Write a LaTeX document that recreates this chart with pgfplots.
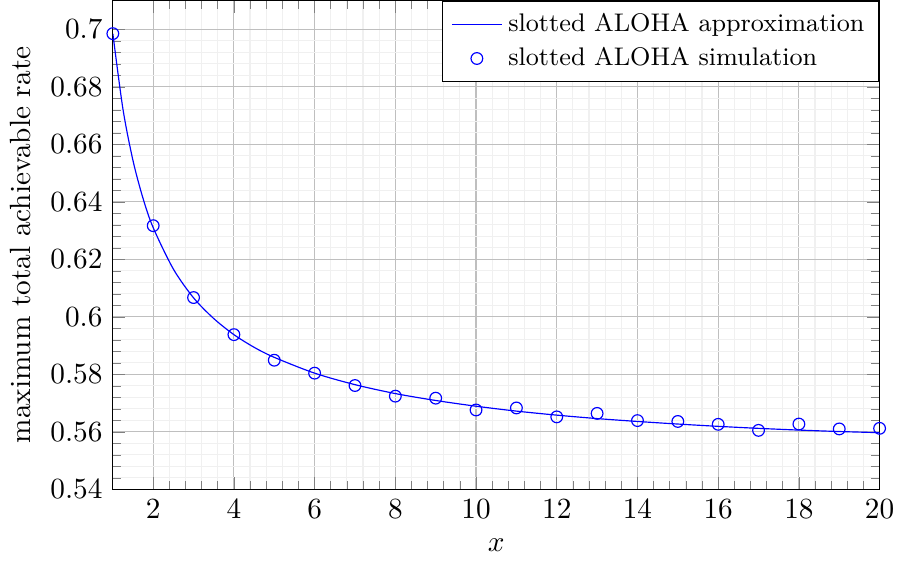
\documentclass[border=0pt]{standalone}
\usepackage{pgfplots}
\pgfplotsset{compat=1.18}
\begin{document}
\begin{tikzpicture}
\begin{axis}[
  scale only axis,
  width=262pt, height=167pt,
  xmin=1, xmax=20, ymin=0.54, ymax=0.71,
  xtick={2,4,...,20},
  ytick={0.54,0.56,...,0.7},
  yticklabel style={/pgf/number format/fixed, /pgf/number format/precision=2},
  minor x tick num=4,
  minor y tick num=4,
  grid=both,
  major grid style={black!25},
  minor grid style={black!6},
  xlabel={$x$},
  ylabel={maximum total achievable rate},
  legend style={at={(1,1)}, anchor=north east, font=\fontsize{8.7}{10.5}\selectfont},
  legend cell align=left,
]
\addplot[color=blue, smooth, no markers] coordinates {
(1,0.6985) (1.25,0.6723) (1.5,0.6543) (1.75,0.6411) (2,0.6310) (2.5,0.6166)
(3,0.6066) (3.5,0.5994) (4,0.5938) (4.5,0.5894) (5,0.5859) (6,0.5804)
(7,0.5764) (8,0.5733) (9,0.5709) (10,0.5689) (11,0.5672) (12,0.5658)
(13,0.5646) (14,0.5636) (15,0.5627) (16,0.5619) (17,0.5612) (18,0.5606)
(19,0.5601) (20,0.5597)
};
\addlegendentry{slotted ALOHA approximation}
\addplot[color=blue, only marks, mark=o] coordinates {
(1,0.6985) (2,0.6317) (3,0.6067) (4,0.5938) (5,0.5849) (6,0.5804)
(7,0.5761) (8,0.5724) (9,0.5717) (10,0.5676) (11,0.5683) (12,0.5652)
(13,0.5664) (14,0.5639) (15,0.5636) (16,0.5626) (17,0.5605) (18,0.5627)
(19,0.5610) (20,0.5612)
};
\addlegendentry{slotted ALOHA simulation}
\end{axis}
\end{tikzpicture}
\end{document}
